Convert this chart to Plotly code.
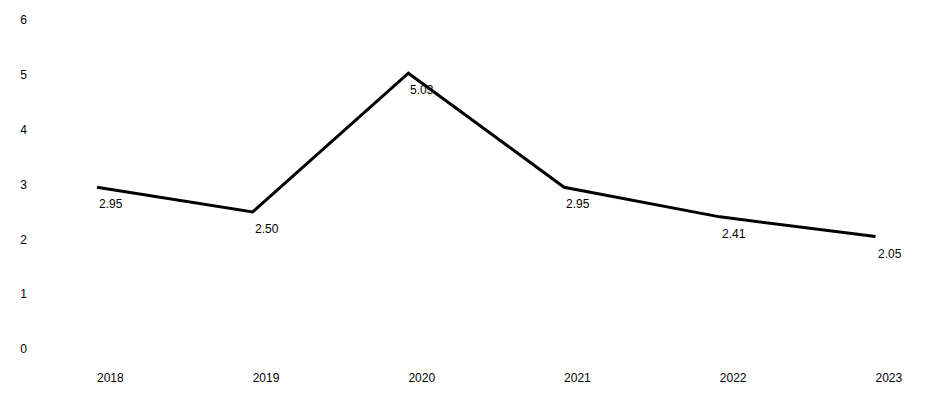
import plotly.graph_objects as go

# Yearly series
years = ["2018", "2019", "2020", "2021", "2022", "2023"]
values = [2.95, 2.50, 5.03, 2.95, 2.41, 2.05]
y_ticks = [0, 1, 2, 3, 4, 5, 6]

FONT = "Liberation Sans, Arial, sans-serif"
xs = list(range(len(years)))

fig = go.Figure(
    go.Scatter(
        x=xs,
        y=values,
        mode="lines",
        line=dict(color="#000000", width=3),
        hoverinfo="skip",
    )
)

# Value labels sit just below and to the right of each point
for x, v in zip(xs, values):
    fig.add_annotation(
        x=x,
        y=v,
        text=f"{v:.2f}",
        showarrow=False,
        xanchor="left",
        yanchor="top",
        xshift=0,
        yshift=-8,
        font=dict(family=FONT, size=12, color="#000000"),
    )

fig.update_layout(
    width=926,
    height=395,
    margin=dict(l=28, r=10, t=20, b=44),
    paper_bgcolor="#ffffff",
    plot_bgcolor="#ffffff",
    showlegend=False,
    font=dict(family=FONT, size=12, color="#000000"),
    xaxis=dict(
        tickmode="array",
        tickvals=xs,
        ticktext=years,
        range=[-0.443, 5.26],
        showgrid=False,
        zeroline=False,
        showline=False,
        ticks="",
        ticklabelposition="outside right",
        ticklabelstandoff=20,
    ),
    yaxis=dict(
        range=[0, 6],
        tickmode="array",
        tickvals=y_ticks,
        showgrid=False,
        zeroline=False,
        showline=False,
        ticks="",
    ),
)

fig.write_html("out.html")
